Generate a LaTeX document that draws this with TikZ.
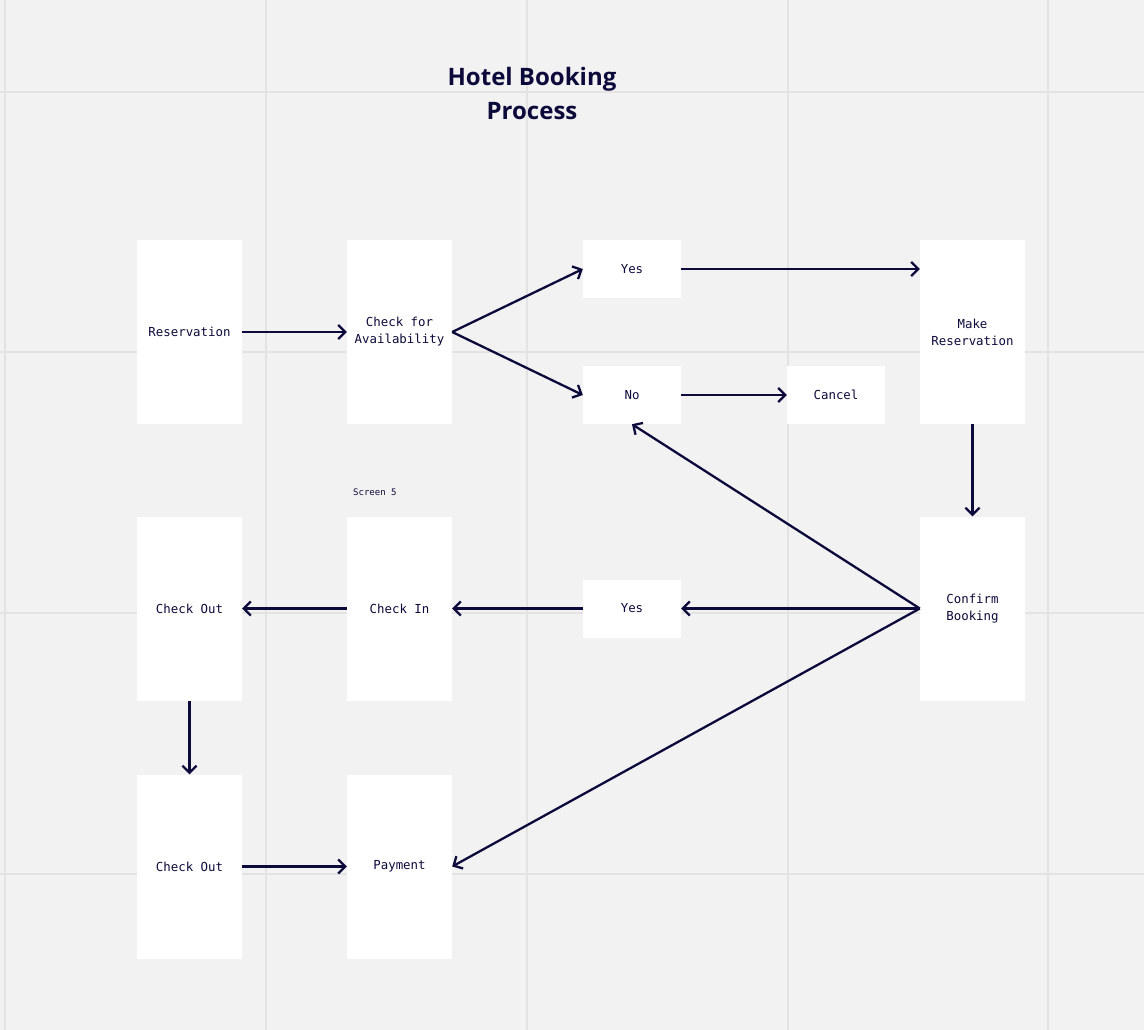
\documentclass[tikz,border=0pt]{standalone}
\usepackage{fontspec}
\setmainfont{Open Sans}
\setmonofont{DejaVu Sans Mono}
\usetikzlibrary{arrows.meta}
\definecolor{ink}{HTML}{0C0A3A}
\definecolor{bg}{HTML}{F2F2F2}
\definecolor{gridc}{HTML}{E3E3E3}
\tikzset{
  tall/.style={fill=white, draw=none, inner sep=0pt, minimum width=105pt, minimum height=184pt, align=center, font=\ttfamily\fontsize{12.4}{17}\selectfont, text=ink},
  small/.style={fill=white, draw=none, inner sep=0pt, minimum width=98pt, minimum height=58pt, align=center, font=\ttfamily\fontsize{12.4}{17}\selectfont, text=ink},
  flow/.style={draw=ink, line width=2.3pt, -{Straight Barb[length=7pt,width=14pt,line width=2.3pt]}},
}
\begin{document}
\begin{tikzpicture}[x=1pt,y=-1pt]
\fill[bg] (0,0) rectangle (1144,1030);
\useasboundingbox (0,0) rectangle (1144,1030);
\foreach \gx in {5,266,527,788,1048} \draw[gridc, line width=2pt] (\gx,0) -- (\gx,1030);
\foreach \gy in {92,352,613,874} \draw[gridc, line width=2pt] (0,\gy) -- (1144,\gy);

\node[font=\bfseries\fontsize{24}{34}\selectfont, text=ink, align=center] (title) at (532,94) {Hotel Booking\\Process};
\node[font=\ttfamily\fontsize{9}{11}\selectfont, text=ink, anchor=west, inner sep=0pt] (screen) at (353,492) {Screen 5};

\node[tall] (res) at (189.5,332) {Reservation};
\node[tall] (chk) at (399.5,332) {Check for\\Availability};
\node[small] (yes1) at (632,269) {Yes};
\node[small] (no) at (632,395) {No};
\node[small] (cancel) at (836,395) {Cancel};
\node[tall] (mkres) at (972.5,332) {Make\\Reservation};
\node[tall] (conf) at (972.5,608.5) {Confirm\\Booking};
\node[small] (yes2) at (632,608.5) {Yes};
\node[tall] (chin) at (399.5,608.5) {Check In};
\node[tall] (chout1) at (189.5,608.5) {Check Out};
\node[tall] (chout2) at (189.5,866.5) {Check Out};
\node[tall] (pay) at (399.5,866.5) {Payment};

\draw[flow] (res) -- (chk);
\draw[flow] (chk.east) -- (yes1.west);
\draw[flow] (chk.east) -- (no.west);
\draw[flow] (yes1.east) -- (yes1.east -| mkres.west);
\draw[flow] (no) -- (cancel);
\draw[flow] (mkres) -- (conf);
\draw[flow] (conf.west) -- (no.south);
\draw[flow] (conf.west) -- (yes2.east);
\draw[flow] (conf.west) -- (pay.east);
\draw[flow] (yes2) -- (chin);
\draw[flow] (chin) -- (chout1);
\draw[flow] (chout1) -- (chout2);
\draw[flow] (chout2) -- (pay);
\end{tikzpicture}
\end{document}
